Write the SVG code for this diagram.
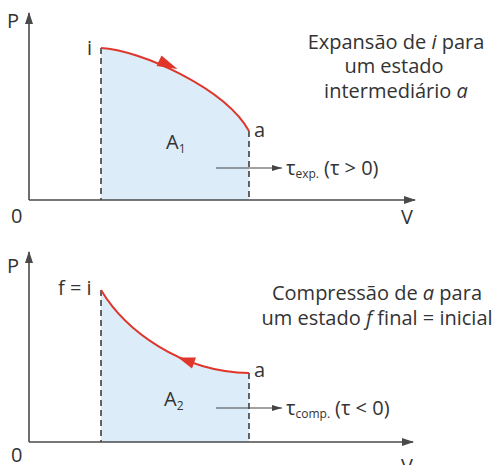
<svg xmlns="http://www.w3.org/2000/svg" width="493" height="465" viewBox="0 0 493 465">
<style>
text{font-family:"Open Sans","Liberation Sans",sans-serif;fill:#333;font-size:20px}
.ax{stroke:#4a4a4a;stroke-width:1.6;fill:none}
.ds{stroke:#333;stroke-width:1.5;stroke-dasharray:6 4;fill:none}
.cv{stroke:#e0352b;stroke-width:2;fill:none}
.ar{stroke:#444;stroke-width:1.2;fill:none}
.fl{fill:#dcedf9;stroke:none}
.sub{font-size:12px}
.c{text-anchor:middle}
</style>
<defs>
<marker id="ah" markerWidth="12" markerHeight="8" refX="11" refY="4" orient="auto" markerUnits="userSpaceOnUse">
<path d="M0,0 L12,4 L0,8 Z" fill="#4a4a4a"/>
</marker>
<marker id="sh" markerWidth="10" markerHeight="6" refX="10" refY="3" orient="auto" markerUnits="userSpaceOnUse">
<path d="M0,0 L10,3 L0,6 Z" fill="#444"/>
</marker>
</defs>
<g id="chart-top">
<path class="fl" d="M101,48 C140,50 225,88 249,131 L249,200 L101,200 Z"/>
<line class="ds" x1="101" y1="48" x2="101" y2="200"/>
<line class="ds" x1="249" y1="131" x2="249" y2="200"/>
<path class="cv" d="M101,48 C140,50 225,88 249,131"/>
<polygon points="177.5,69 156.5,66 161.5,55.5" fill="#e0352b"/>
<line class="ax" x1="29" y1="200" x2="29" y2="13" marker-end="url(#ah)"/>
<line class="ax" x1="29" y1="200" x2="415" y2="200" marker-end="url(#ah)"/>
<text x="7" y="28">P</text>
<text x="11" y="223">0</text>
<text x="401" y="224">V</text>
<text x="87" y="55">i</text>
<text x="254" y="137">a</text>
<text x="166" y="149">A<tspan class="sub" dy="4">1</tspan></text>
<line class="ar" x1="216" y1="168" x2="282" y2="168" marker-end="url(#sh)"/>
<text x="286" y="175">τ<tspan class="sub" dy="3">exp.</tspan><tspan dy="-3" dx="5">(τ &gt; 0)</tspan></text>
<text class="c" x="396" y="49">Expansão de <tspan font-style="italic">i</tspan> para</text>
<text class="c" x="394" y="73">um estado</text>
<text class="c" x="396" y="98">intermediário <tspan font-style="italic">a</tspan></text>
</g>
<g id="chart-bottom">
<path class="fl" d="M101,290 C125,330 180,372 249,373 L249,442 L101,442 Z"/>
<line class="ds" x1="101" y1="290" x2="101" y2="442"/>
<line class="ds" x1="249" y1="373" x2="249" y2="442"/>
<path class="cv" d="M101,290 C125,330 180,372 249,373"/>
<polygon points="178,357.5 196,357.5 192,368.5" fill="#e0352b"/>
<line class="ax" x1="29" y1="442" x2="29" y2="252" marker-end="url(#ah)"/>
<line class="ax" x1="29" y1="442" x2="413" y2="442" marker-end="url(#ah)"/>
<text x="7" y="273">P</text>
<text x="11" y="462">0</text>
<text x="401" y="473">V</text>
<text x="58" y="295">f = i</text>
<text x="254" y="377">a</text>
<text x="164" y="406">A<tspan class="sub" dy="4">2</tspan></text>
<line class="ar" x1="216" y1="408" x2="282" y2="408" marker-end="url(#sh)"/>
<text x="286" y="415">τ<tspan class="sub" dy="3">comp.</tspan><tspan dy="-3" dx="5">(τ &lt; 0)</tspan></text>
<text class="c" x="377" y="300">Compressão de <tspan font-style="italic">a</tspan> para</text>
<text class="c" x="377" y="325">um estado <tspan font-style="italic">f</tspan> final = inicial</text>
</g>
</svg>
